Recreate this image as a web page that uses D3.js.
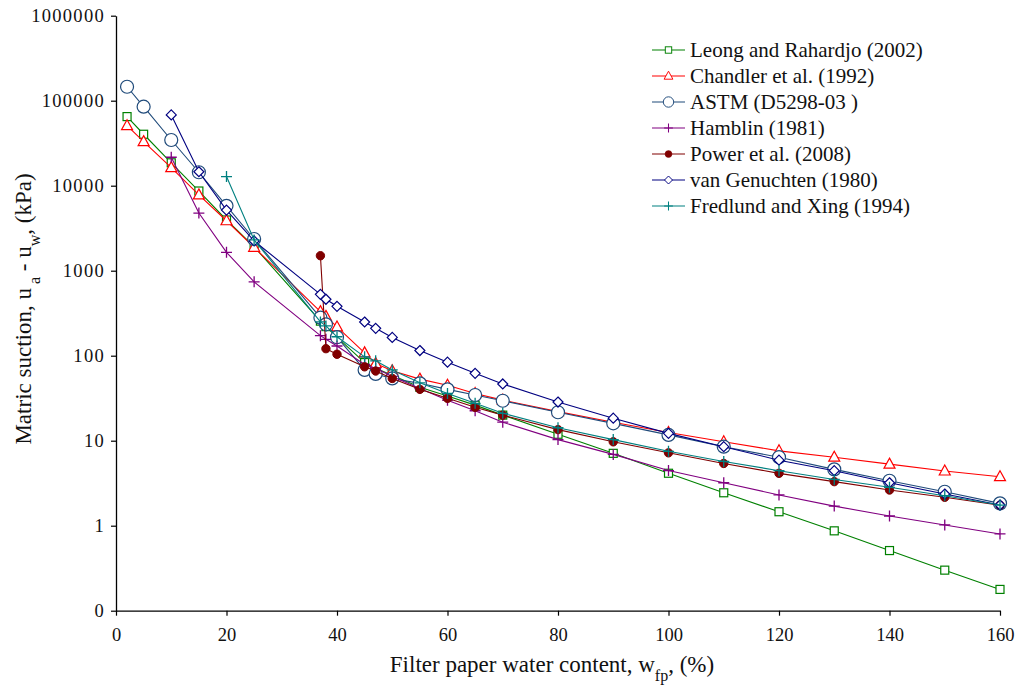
<!DOCTYPE html>
<html>
<head>
<meta charset="utf-8">
<script src="https://cdn.jsdelivr.net/npm/d3@7"></script>
<style>
  body { margin: 0; background: #fff; }
  svg text { font-family: "Liberation Serif", "Times New Roman", Times, serif; }
</style>
</head>
<body>
<svg id="chart" width="1016" height="689"></svg>
<script>
// x values (filter paper water content, %)
const xFull = [2, 5, 10, 15, 20, 25, 37, 38, 40, 45, 47, 50, 55, 60, 65, 70, 80, 90, 100, 110, 120, 130, 140, 150, 160];
const xFrom10 = [10, 15, 20, 25, 37, 38, 40, 45, 47, 50, 55, 60, 65, 70, 80, 90, 100, 110, 120, 130, 140, 150, 160];
const xFrom20 = [20, 25, 37, 38, 40, 45, 47, 50, 55, 60, 65, 70, 80, 90, 100, 110, 120, 130, 140, 150, 160];
const xFrom37 = [37, 38, 40, 45, 47, 50, 55, 60, 65, 70, 80, 90, 100, 110, 120, 130, 140, 150, 160];

// matric suction (kPa)
const leong = [65000, 40300, 18600, 8660, 3950, 1915, 255, 220, 165, 83, 71, 59, 42.5, 33.5, 26.2, 20, 11.9, 7.1, 4.14, 2.44, 1.46, 0.87, 0.51, 0.30, 0.178];
const chandler = [50800, 33000, 16300, 7800, 3870, 1885, 330, 290, 218, 108, 81, 66.5, 53, 45, 36, 30, 22, 16.5, 12.5, 9.7, 7.6, 6.4, 5.3, 4.4, 3.77];
const astm = [146000, 85000, 34500, 14400, 5800, 2360, 280, 234, 165, 68, 61, 54, 47.3, 40.2, 34.5, 29.5, 21.6, 16, 11.7, 8.5, 6.4, 4.6, 3.38, 2.51, 1.83];
const hamblin = [21600, 4770, 1645, 740, 172, 156, 130, 79, 71, 57, 41, 30, 22.5, 16.5, 10.3, 6.9, 4.45, 3.2, 2.3, 1.7, 1.3, 1.02, 0.8];
const power = [1500, 121, 104, 74, 66, 54, 40.2, 31.5, 24.7, 20, 13.5, 9.7, 7.2, 5.4, 4.13, 3.3, 2.63, 2.16, 1.74];
const vanGenuchten = [68000, 14600, 5170, 2240, 527, 461, 381, 249, 210, 164, 115, 84, 62, 46.5, 28.5, 18.4, 12.2, 8.5, 5.9, 4.44, 3.2, 2.36, 1.75];
const fredlund = [12800, 2300, 250, 224, 167, 97, 87, 68, 48, 36, 27.5, 21, 14.2, 10.3, 7.5, 5.7, 4.44, 3.5, 2.83, 2.25, 1.75];

const xTicks = [0, 20, 40, 60, 80, 100, 120, 140, 160];
const yTicks = [0.1, 1, 10, 100, 1000, 10000, 100000, 1000000];
const yTickLabels = ['0', '1', '10', '100', '1000', '10000', '100000', '1000000'];

const series = [
    { name: 'Leong and Rahardjo (2002)', xs: xFull, ys: leong, color: '#008000', marker: 'square' },
    { name: 'Chandler et al. (1992)', xs: xFull, ys: chandler, color: '#ff0000', marker: 'triangle' },
    { name: 'ASTM (D5298-03 )', xs: xFull, ys: astm, color: '#1f4a7a', marker: 'circle' },
    { name: 'Hamblin (1981)', xs: xFrom10, ys: hamblin, color: '#800080', marker: 'plus' },
    { name: 'Power et al. (2008)', xs: xFrom37, ys: power, color: '#800000', marker: 'dot' },
    { name: 'van Genuchten (1980)', xs: xFrom10, ys: vanGenuchten, color: '#000080', marker: 'diamond' },
    { name: 'Fredlund and Xing (1994)', xs: xFrom20, ys: fredlund, color: '#008080', marker: 'plus' },
];

const FONT = '"Liberation Serif", "Times New Roman", Times, serif';

const svg = d3.select('#chart');
const x = d3.scaleLinear().domain([0, 160]).range([116, 1000]);
const y = d3.scaleLog().domain([0.1, 1000000]).range([610.7, 15.7]);

// axes
const xAxis = d3.axisBottom(x).tickValues(xTicks).tickSize(5).tickSizeOuter(0).tickPadding(12);
const yAxis = d3.axisLeft(y).tickValues(yTicks).tickSize(5).tickSizeOuter(0).tickPadding(6)
    .tickFormat((d, i) => yTickLabels[i]);

const gx = svg.append('g').attr('transform', `translate(0,${y(0.1)})`).call(xAxis);
const gy = svg.append('g').attr('transform', `translate(${x(0)},0)`).call(yAxis);
[gx, gy].forEach(g => {
    g.attr('font-family', FONT);
    g.select('.domain').attr('stroke', '#000').attr('stroke-width', 1.3);
    g.selectAll('.tick line').attr('stroke', '#000').attr('stroke-width', 1.2);
    g.selectAll('.tick text').attr('fill', '#111').attr('font-size', 18.5);
});
gy.selectAll('.tick text').attr('letter-spacing', '1.3px');

function drawMarker(g, type, color) {
    if (type === 'circle') {
        g.append('circle').attr('r', 6.5).attr('fill', '#fff').attr('stroke', color).attr('stroke-width', 1.2);
    } else if (type === 'dot') {
        g.append('circle').attr('r', 4.2).attr('fill', color).attr('stroke', color);
    } else if (type === 'square') {
        g.append('rect').attr('x', -4).attr('y', -4).attr('width', 8).attr('height', 8)
            .attr('fill', '#fff').attr('stroke', color).attr('stroke-width', 1.2);
    } else if (type === 'triangle') {
        g.append('path').attr('d', 'M0,-6L5.5,4L-5.5,4Z')
            .attr('fill', '#fff').attr('stroke', color).attr('stroke-width', 1.2);
    } else if (type === 'diamond') {
        g.append('path').attr('d', 'M0,-5L5,0L0,5L-5,0Z')
            .attr('fill', '#fff').attr('stroke', color).attr('stroke-width', 1.2);
    } else if (type === 'plus') {
        g.append('path').attr('d', 'M-5.5,0H5.5M0,-5.5V5.5')
            .attr('fill', 'none').attr('stroke', color).attr('stroke-width', 1.3);
    }
}

const line = d3.line().x(d => x(d[0])).y(d => y(d[1]));

series.forEach(s => {
    const pts = s.xs.map((v, i) => [v, s.ys[i]]);
    const g = svg.append('g');
    g.append('path').datum(pts).attr('d', line)
        .attr('fill', 'none').attr('stroke', s.color).attr('stroke-width', 1.1);
    g.selectAll('g.pt').data(pts).enter().append('g').attr('class', 'pt')
        .attr('transform', d => `translate(${x(d[0])},${y(d[1])})`)
        .each(function () { drawMarker(d3.select(this), s.marker, s.color); });
});

// legend
const legend = svg.append('g').attr('transform', 'translate(652,50)');
series.forEach((s, i) => {
    const row = legend.append('g').attr('transform', `translate(0,${i * 26})`);
    row.append('line').attr('x1', 0).attr('x2', 33).attr('stroke', s.color).attr('stroke-width', 1.1);
    const m = row.append('g').attr('transform', 'translate(16.5,0) scale(0.8)');
    drawMarker(m, s.marker, s.color);
    row.append('text').attr('x', 38).attr('y', 7).attr('font-family', FONT).attr('font-size', 21)
        .attr('fill', '#111').text(s.name);
});

// axis titles
const xt = svg.append('text').attr('x', 552).attr('y', 672).attr('text-anchor', 'middle')
    .attr('font-family', FONT).attr('font-size', 23).attr('fill', '#111');
xt.append('tspan').text('Filter paper water content, w');
xt.append('tspan').attr('baseline-shift', 'sub').attr('font-size', 16).text('fp');
xt.append('tspan').text(', (%)');

const yt = svg.append('text').attr('transform', 'translate(31,309) rotate(-90)').attr('text-anchor', 'middle')
    .attr('font-family', FONT).attr('font-size', 23).attr('fill', '#111');
yt.append('tspan').text('Matric suction, u');
yt.append('tspan').attr('baseline-shift', 'sub').attr('font-size', 16).text(' a');
yt.append('tspan').text(' - u');
yt.append('tspan').attr('baseline-shift', 'sub').attr('font-size', 16).text('w');
yt.append('tspan').text(', (kPa)');
</script>
</body>
</html>
